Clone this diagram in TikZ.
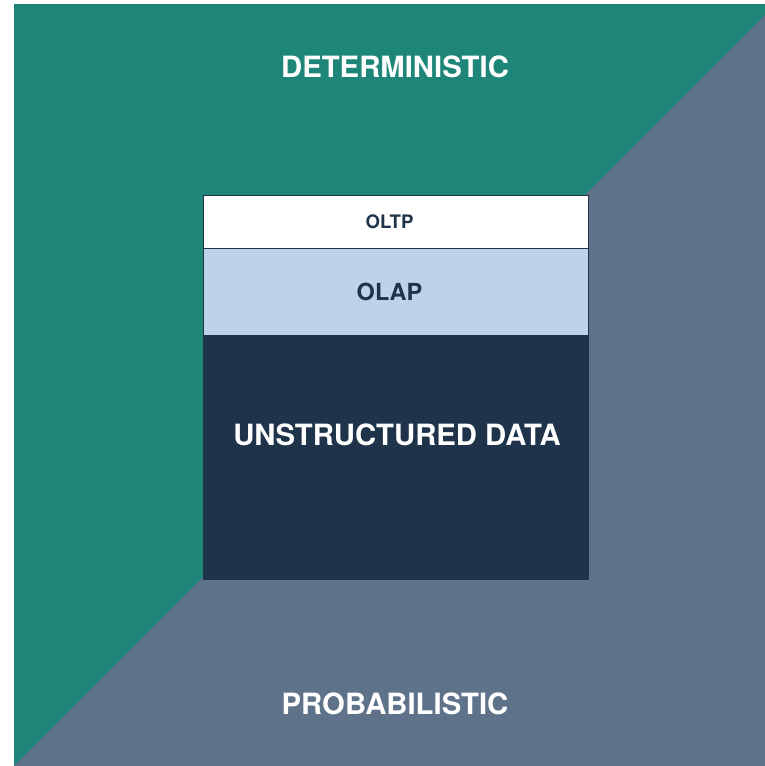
\documentclass[tikz,border=0pt]{standalone}
\usepackage{fontspec}
\setmainfont{TeX Gyre Heros}
\usetikzlibrary{positioning}

\definecolor{detgreen}{HTML}{1E8678}
\definecolor{probgrey}{HTML}{5E7389}
\definecolor{navy}{HTML}{1F344A}
\definecolor{paleblue}{HTML}{BDD3EA}

\begin{document}
\begin{tikzpicture}[x=1pt, y=1pt,
    layer/.style={draw=navy, line width=0.8pt, minimum width=385pt, inner sep=0pt, outer sep=0pt, font=\bfseries},
    bigtext/.style={font=\fontsize{29.3}{31}\selectfont\bfseries, text=white}]
    \useasboundingbox (0,0) rectangle (765,766);
    % the two halves
    \fill[detgreen] (14,0) rectangle (765,762);
    \fill[probgrey] (14,0) -- (765,0) -- (765,751) -- cycle;
    \node[bigtext] (det) at (395,699) {DETERMINISTIC};
    \node[bigtext] (prob) at (395,62) {PROBABILISTIC};
    % stacked data layers
    \node[layer, fill=white, text=navy, minimum height=53pt, font=\fontsize{18.6}{20}\selectfont\bfseries] (oltp) at (395.5,544.5) {\hspace*{-12pt}OLTP};
    \node[layer, fill=paleblue, text=navy, minimum height=87pt, below=0pt of oltp, font=\fontsize{23.5}{25}\selectfont\bfseries] (olap) {\hspace*{-12pt}OLAP};
    \node[layer, fill=navy, minimum height=244pt, below=0pt of olap] (unstr) {};
    \node[bigtext] (unstrtext) at ([xshift=1.5pt, yshift=22pt]unstr.center) {UNSTRUCTURED DATA};
\end{tikzpicture}
\end{document}
